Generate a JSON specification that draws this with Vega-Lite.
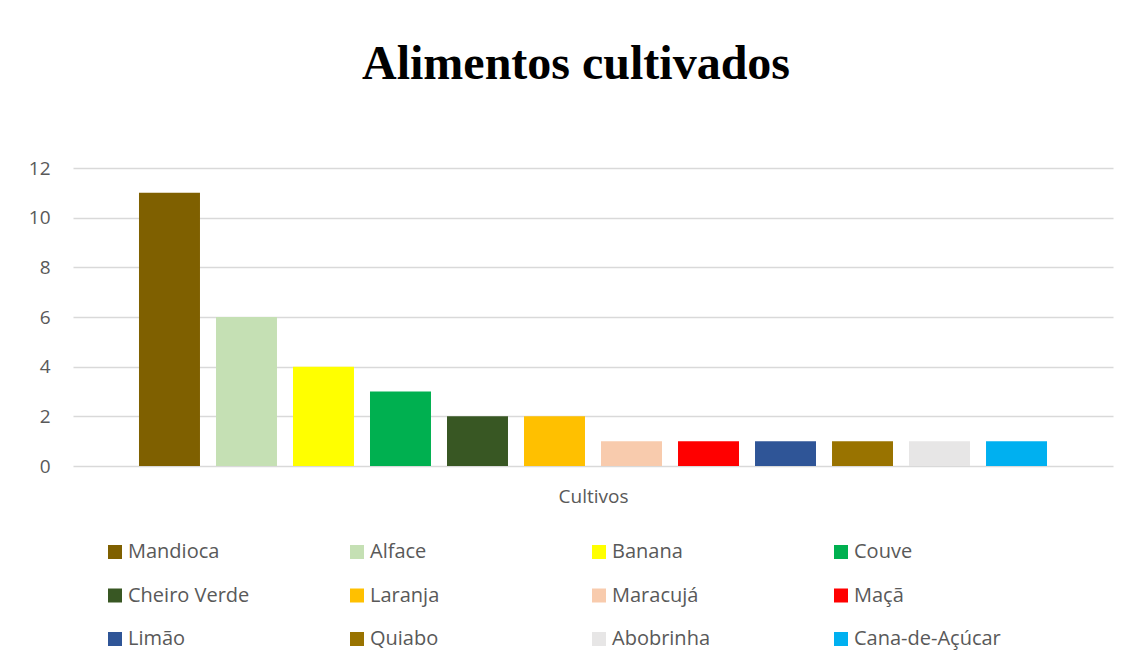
{
  "$schema": "https://vega.github.io/schema/vega-lite/v6.json",
  "autosize": "none",
  "width": 1040,
  "height": 298,
  "padding": {"left": 73, "top": 168, "right": 15, "bottom": 202},
  "background": "white",
  "config": {
    "view": {"stroke": null},
    "font": "Open Sans"
  },
  "title": {
    "text": "Alimentos cultivados",
    "font": "Liberation Serif",
    "fontSize": 48,
    "fontWeight": "bold",
    "color": "#000000",
    "anchor": "middle",
    "dx": -17,
    "offset": 70
  },
  "data": {
    "values": [
      {"Cultivo": "Mandioca", "Quantidade": 11},
      {"Cultivo": "Alface", "Quantidade": 6},
      {"Cultivo": "Banana", "Quantidade": 4},
      {"Cultivo": "Couve", "Quantidade": 3},
      {"Cultivo": "Cheiro Verde", "Quantidade": 2},
      {"Cultivo": "Laranja", "Quantidade": 2},
      {"Cultivo": "Maracujá", "Quantidade": 1},
      {"Cultivo": "Maçã", "Quantidade": 1},
      {"Cultivo": "Limão", "Quantidade": 1},
      {"Cultivo": "Quiabo", "Quantidade": 1},
      {"Cultivo": "Abobrinha", "Quantidade": 1},
      {"Cultivo": "Cana-de-Açúcar", "Quantidade": 1}
    ]
  },
  "mark": {"type": "bar"},
  "encoding": {
    "x": {
      "field": "Cultivo",
      "type": "nominal",
      "sort": null,
      "scale": {"paddingInner": 0.208, "paddingOuter": 0.857},
      "axis": {
        "labels": false,
        "ticks": false,
        "domain": false,
        "title": "Cultivos",
        "titleFont": "Open Sans",
        "titleFontSize": 19,
        "titleFontWeight": "normal",
        "titleColor": "#595959",
        "titlePadding": 21
      }
    },
    "y": {
      "field": "Quantidade",
      "type": "quantitative",
      "scale": {"domain": [0, 12]},
      "axis": {
        "values": [0, 2, 4, 6, 8, 10, 12],
        "title": null,
        "domain": false,
        "ticks": false,
        "labelFont": "Open Sans",
        "labelFontSize": 19,
        "labelColor": "#595959",
        "labelPadding": 23,
        "gridColor": "#d9d9d9",
        "gridWidth": 1.5
      }
    },
    "color": {
      "field": "Cultivo",
      "type": "nominal",
      "sort": null,
      "scale": {
        "domain": ["Mandioca", "Alface", "Banana", "Couve", "Cheiro Verde", "Laranja", "Maracujá", "Maçã", "Limão", "Quiabo", "Abobrinha", "Cana-de-Açúcar"],
        "range": ["#7F6000", "#C5E0B4", "#FFFF00", "#00B050", "#385723", "#FFC000", "#F8CBAD", "#FF0000", "#2F5597", "#997300", "#E7E6E6", "#00B0F0"]
      },
      "legend": {
        "title": null,
        "orient": "none",
        "direction": "horizontal",
        "legendX": 32,
        "legendY": 374,
        "columns": 4,
        "gridAlign": "all",
        "columnPadding": 72,
        "rowPadding": 23.5,
        "padding": 0,
        "symbolType": "square",
        "symbolSize": 196,
        "symbolStrokeWidth": 0,
        "labelFont": "Open Sans",
        "labelFontSize": 20,
        "labelColor": "#595959",
        "labelOffset": 3,
        "labelLimit": 300
      }
    }
  }
}
